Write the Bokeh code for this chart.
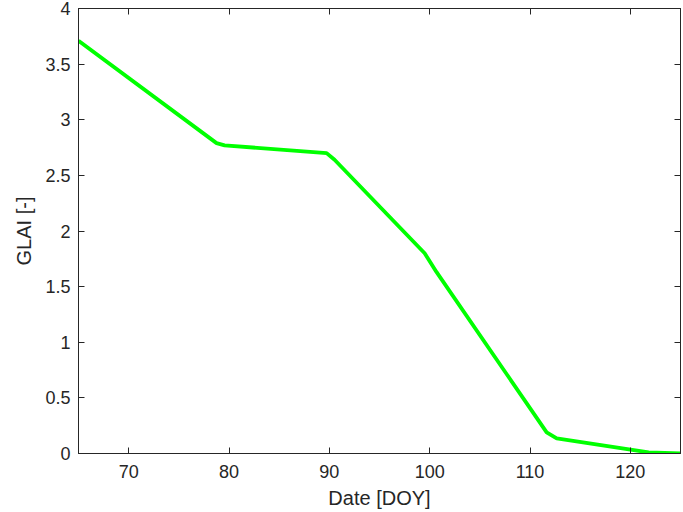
from bokeh.plotting import figure
from bokeh.models import LinearAxis, FixedTicker, CustomJSTickFormatter
from bokeh.embed import file_html
from bokeh.resources import INLINE

# Data (DOY vs GLAI)
doy = [65.0, 78.76, 79.56, 89.73, 90.52, 99.5, 100.69, 111.66, 112.66, 121.83, 125.0]
glai = [3.71, 2.79, 2.77, 2.70, 2.64, 1.80, 1.63, 0.19, 0.135, 0.01, 0.0]

x_ticks = [70, 80, 90, 100, 110, 120]
y_ticks = [0, 0.5, 1, 1.5, 2, 2.5, 3, 3.5, 4]
x_min, x_max = 65, 125
y_min, y_max = 0, 4

FONT = "Liberation Sans"
INK = "#262626"

p = figure(width=683, height=512, x_range=(x_min, x_max), y_range=(y_min, y_max),
           output_backend="svg", toolbar_location=None,
           min_border_left=78, min_border_right=3, min_border_top=8, min_border_bottom=59,
           x_axis_label="Date [DOY]", y_axis_label="GLAI [-]")
p.grid.visible = False
p.outline_line_color = INK
p.outline_line_width = 1
p.background_fill_color = "white"
p.border_fill_color = "white"

fmt = CustomJSTickFormatter(code="return tick.toString();")

# mirrored box axes (ticks only) on top and right, as in the reference
top = LinearAxis()
right = LinearAxis()
p.add_layout(top, "above")
p.add_layout(right, "right")

xaxes = list(p.xaxis)
yaxes = list(p.yaxis)
for ax in xaxes:
    ax.ticker = FixedTicker(ticks=x_ticks)
for ax in yaxes:
    ax.ticker = FixedTicker(ticks=y_ticks)
    ax.formatter = fmt

for ax in xaxes + yaxes:
    ax.axis_line_color = INK
    ax.major_tick_line_color = INK
    ax.major_tick_in = 6
    ax.major_tick_out = 0
    ax.minor_tick_line_color = None
    ax.major_label_text_font = FONT
    ax.major_label_text_font_size = "18px"
    ax.major_label_text_color = INK
    ax.axis_label_text_font = FONT
    ax.axis_label_text_font_size = "20px"
    ax.axis_label_text_font_style = "normal"
    ax.axis_label_text_color = INK

for ax in (top, right):
    ax.major_label_text_font_size = "0px"
    ax.major_label_standoff = 0
    ax.axis_label = None

p.below[0].major_label_standoff = 11
p.below[0].axis_label_standoff = 6
p.left[0].major_label_standoff = 8
p.left[0].axis_label_standoff = 7

p.line(doy, glai, line_color="#00FF00", line_width=3.8)

out = file_html(p, INLINE)
open("out.html", "w").write(out)
